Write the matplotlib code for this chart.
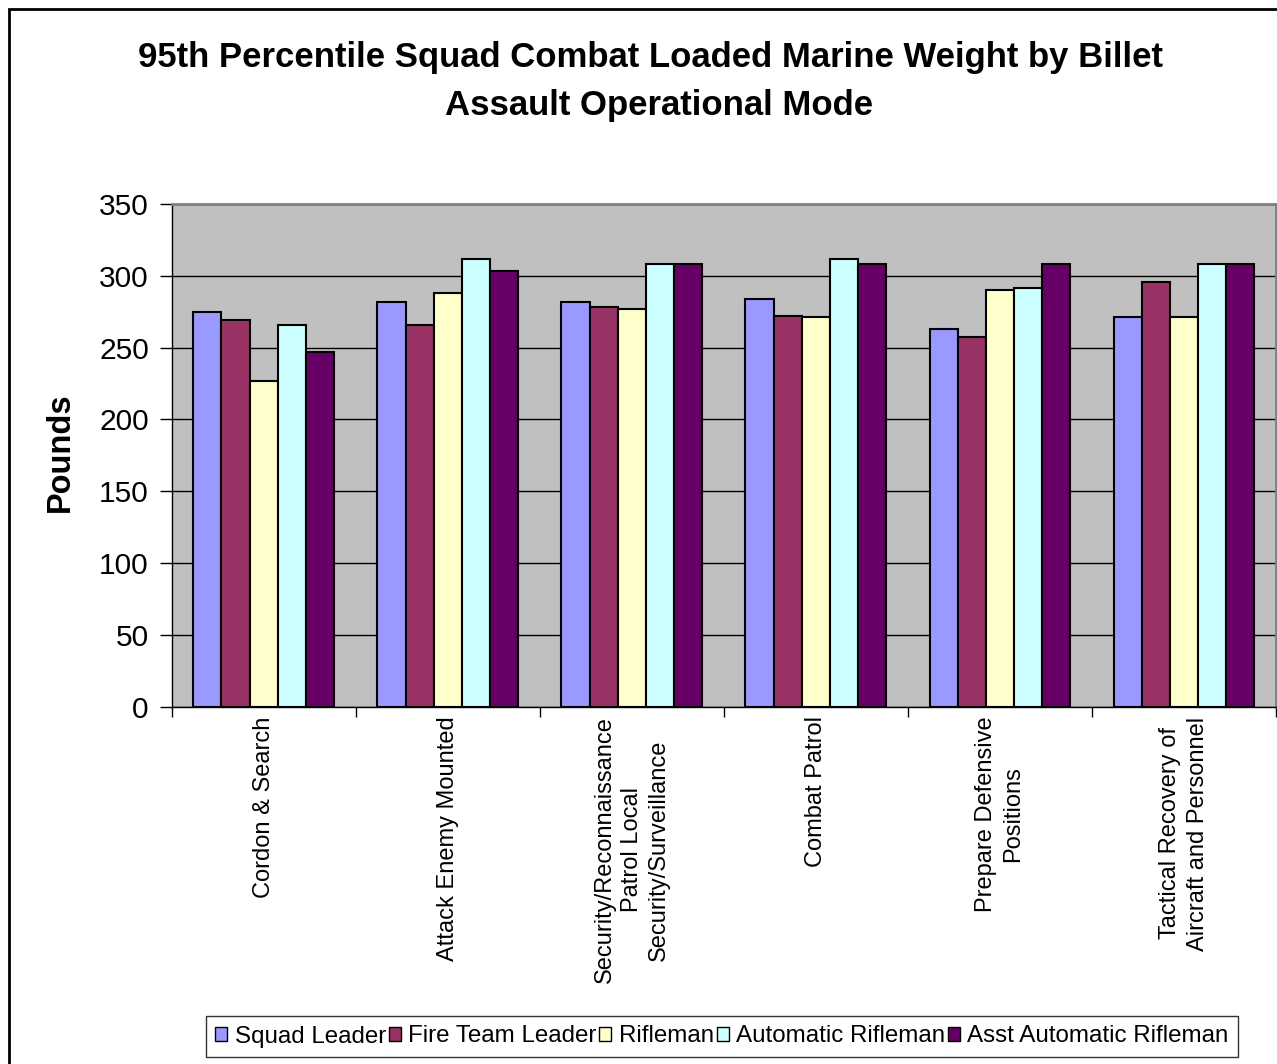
import numpy as np
import matplotlib.pyplot as plt
from matplotlib.patches import Rectangle

plt.rcParams['font.family'] = ['Liberation Sans', 'DejaVu Sans']

modes = ['Cordon & Search', 'Attack Enemy Mounted',
         'Security/Reconnaissance\nPatrol Local\nSecurity/Surveillance',
         'Combat Patrol', 'Prepare Defensive\nPositions',
         'Tactical Recovery of\nAircraft and Personnel']
billets = ['Squad Leader', 'Fire Team Leader', 'Rifleman',
           'Automatic Rifleman', 'Asst Automatic Rifleman']

squad_leader = [275, 282, 282, 284, 263, 271]
fire_team_leader = [269, 266, 278, 272, 257.5, 296]
rifleman = [227, 288, 277, 271, 290, 271]
automatic_rifleman = [266, 312, 308, 312, 291.5, 308]
asst_automatic_rifleman = [247, 303.5, 308, 308, 308, 308]

colors = ['#9999FF', '#993366', '#FFFFCC', '#CCFFFF', '#660066']

series = [squad_leader, fire_team_leader, rifleman, automatic_rifleman, asst_automatic_rifleman]

fig = plt.figure(figsize=(12.77, 10.64), dpi=100)
ax = fig.add_axes([171.7 / 1277, 1 - 706.7 / 1064, (1276 - 171.7) / 1277, (706.7 - 204) / 1064])

# outer chart border (cropped at right/bottom in the original)
fig.patches.append(Rectangle((8.5 / 1277, -0.05), 1.2, 1 - 8.5 / 1064 + 0.05,
                             transform=fig.transFigure, fill=False,
                             edgecolor='black', linewidth=2))

x = np.arange(len(modes))
barWidth = 0.153
for j, (vals, name) in enumerate(zip(series, billets)):
    ax.bar(x + (j - 2) * barWidth, vals, width=barWidth, color=colors[j],
           edgecolor='black', linewidth=1.5, label=name, zorder=3)

ax.set_facecolor('#C0C0C0')
ax.set_xlim(-0.5, len(modes) - 0.5)
ax.set_ylim(0, 350)
ax.set_yticks(np.arange(0, 351, 50))
ax.yaxis.grid(True, color='black', linewidth=1, zorder=0)
ax.tick_params(axis='y', labelsize=21.5, length=8.5, width=1, direction='out', pad=8)

# group boundaries as major ticks, category names as minor tick labels
ax.set_xticks(np.arange(-0.5, len(modes), 1.0))
ax.set_xticklabels([])
ax.set_xticks(x, minor=True)
ax.set_xticklabels(modes, minor=True, rotation=90, fontsize=17,
                   ha='center', va='top', multialignment='center', linespacing=1.3)
ax.tick_params(axis='x', which='major', length=7, width=1, direction='out')
ax.tick_params(axis='x', which='minor', length=0, pad=7)

for s in ['top', 'right']:
    ax.spines[s].set_color('#808080')
    ax.spines[s].set_linewidth(2)
for s in ['left', 'bottom']:
    ax.spines[s].set_color('black')
    ax.spines[s].set_linewidth(1)

ax.set_ylabel('Pounds', fontsize=23.5, fontweight='bold')
ax.yaxis.set_label_coords(-0.0865, 0.507)

fig.text(651 / 1277, 1 - 57 / 1064, '95th Percentile Squad Combat Loaded Marine Weight by Billet',
         ha='center', va='center', fontsize=25, fontweight='bold')
fig.text(659 / 1277, 1 - 106 / 1064, 'Assault Operational Mode',
         ha='center', va='center', fontsize=25, fontweight='bold')

leg = fig.legend(loc='center', bbox_to_anchor=(722 / 1277, 1 - 1036.5 / 1064), ncol=5,
                 fontsize=17.4, frameon=True, fancybox=False, edgecolor='black',
                 handlelength=0.5, handleheight=0.5, handletextpad=0.3,
                 columnspacing=0.12, borderpad=0.4, borderaxespad=0)
leg.get_frame().set_linewidth(1)
for h in leg.legend_handles:
    h.set_linewidth(1)

fig.savefig('out.png', dpi=100)
